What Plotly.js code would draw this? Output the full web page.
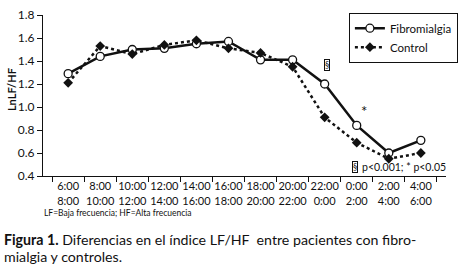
<!DOCTYPE html>
<html><head><meta charset="utf-8">
<script src="https://cdn.plot.ly/plotly-3.0.1.min.js"></script>
<style>html,body{margin:0;padding:0;background:#fff}#c{width:460px;height:269px}</style>
</head><body><div id="c"></div>
<script>
const periods = ["6:00<br>8:00","8:00<br>10:00","10:00<br>12:00","12:00<br>14:00","14:00<br>16:00","16:00<br>18:00","18:00<br>20:00","20:00<br>22:00","22:00<br>0:00","0:00<br>2:00","2:00<br>4:00","4:00<br>6:00"];
const fibromialgia = [1.29,1.44,1.50,1.51,1.55,1.57,1.41,1.41,1.20,0.84,0.60,0.71];
const control = [1.21,1.53,1.46,1.54,1.58,1.51,1.47,1.35,0.91,0.69,0.55,0.60];
const yTicks = [0.4,0.6,0.8,1.0,1.2,1.4,1.6,1.8];
const F = "Lato, 'DejaVu Sans', sans-serif";
const C = "#111";
const traces = [
 {x: periods, y: fibromialgia, name: "Fibromialgia", type: "scatter", mode: "lines+markers",
  line: {color: C, width: 2.5}, marker: {symbol: "circle", size: 8, color: "#fff", line: {color: C, width: 1.3}}},
 {x: periods, y: control, name: "Control", type: "scatter", mode: "lines+markers",
  line: {color: C, width: 2.5, dash: "dot"}, marker: {symbol: "diamond", size: 7.5, color: C}}
];
const H = 160.7, W = 415, L = 43, T = 175.7;
const px = x => (x - L) / W, py = y => (T - y) / H;
const ann = (x, y, text, size, opts) => Object.assign({xref: "paper", yref: "paper", x: px(x), y: py(y), text: text,
  showarrow: false, xanchor: "center", yanchor: "middle", font: {size: size, family: F, color: C}}, opts);
const layout = {
 width: 460, height: 269, margin: {l: 43, r: 2, t: 15, b: 93.3},
 paper_bgcolor: "#fff", plot_bgcolor: "#fff",
 font: {family: F, color: C, size: 12},
 showlegend: true,
 legend: {x: px(358), y: py(12.7), xanchor: "left", yanchor: "top", bordercolor: C, borderwidth: 1,
   bgcolor: "#fff", font: {size: 11.5, family: F, color: C}, tracegroupgap: 0, itemwidth: 30},
 xaxis: {type: "category", showline: true, linecolor: C, linewidth: 1, ticks: "outside", ticklen: 5,
   tickcolor: C, tickson: "boundaries", showgrid: false, zeroline: false, tickangle: 0,
   automargin: false, tickfont: {size: 11, family: F, color: C}},
 yaxis: {range: [0.4, 1.8], tickvals: yTicks, ticktext: yTicks.map(v => v.toFixed(1)), showline: true,
   linecolor: C, linewidth: 1, ticks: "outside", ticklen: 5, tickcolor: C, showgrid: false,
   zeroline: false, automargin: false, tickfont: {size: 12, family: F, color: C}},
 annotations: [
  ann(10, 89, "<b>LnLF/HF</b>", 11, {textangle: -90}),
  ann(335, 64.5, "§", 8.5, {bordercolor: C, borderwidth: 1, borderpad: 0}),
  ann(374, 111, "*", 15),
  ann(361, 166.7, "§", 8.5, {xanchor: "left", bordercolor: C, borderwidth: 1, borderpad: 0}),
  ann(369, 166.7, "p<0.001; * p<0.05", 10.5, {xanchor: "left"}),
  ann(42, 213, "LF=Baja frecuencia; HF=Alta frecuencia", 8.5, {xanchor: "left"}),
  ann(1, 239.5, "<b>Figura 1.</b> Diferencias en el índice LF/HF  entre pacientes con fibro-", 14.2, {xanchor: "left"}),
  ann(1, 256.5, "mialgia y controles.", 14.2, {xanchor: "left"})
 ]
};
Plotly.newPlot("c", traces, layout, {displayModeBar: false, staticPlot: true});
</script></body></html>
